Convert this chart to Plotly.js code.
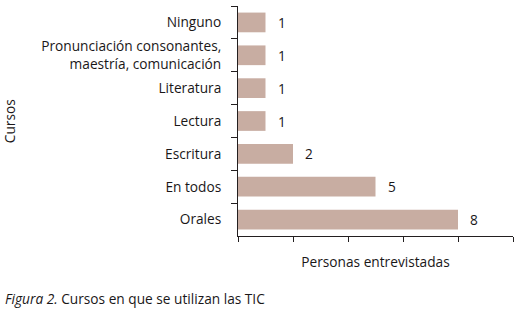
<!DOCTYPE html>
<html>
<head>
<meta charset="utf-8">
<script src="https://cdn.plot.ly/plotly-3.0.1.min.js"></script>
<style>html,body{margin:0;padding:0;background:#fff;}#chart{width:518px;height:309px;}</style>
</head>
<body>
<div id="chart"></div>
<script>
const categories = ["Ninguno", "Pronunciación consonantes,<br>maestría, comunicación", "Literatura", "Lectura", "Escritura", "En todos", "Orales"];
const values = [1, 1, 1, 1, 2, 5, 8];
const xTitle = "Personas entrevistadas";
const yTitle = "Cursos";
const caption = "<i>Figura 2.</i> Cursos en que se utilizan las TIC";

const FONT = "'Open Sans', sans-serif";
const FS = 13.7;
const TXT = "#1a1718";

const annotations = values.map((v, i) => ({
  x: v, y: categories[i], xref: "x", yref: "y",
  text: String(v), showarrow: false, xanchor: "left", yanchor: "middle",
  xshift: 10, font: {family: FONT, size: FS, color: TXT}
}));
annotations.push({
  xref: "paper", yref: "paper", x: -0.856, y: -0.27, xanchor: "left", yanchor: "middle",
  text: caption, showarrow: false, font: {family: FONT, size: FS, color: TXT}
});
annotations.push({
  xref: "paper", yref: "paper", x: -0.832, y: 0.5, xanchor: "center", yanchor: "middle",
  text: yTitle, textangle: -90, showarrow: false, font: {family: FONT, size: FS, color: TXT}
});

const data = [{
  type: "bar", orientation: "h",
  x: values, y: categories,
  marker: {color: "#c8ada2"},
  width: 0.6,
  hoverinfo: "none"
}];

const layout = {
  width: 518, height: 309,
  margin: {l: 238, r: 5, t: 6, b: 73},
  paper_bgcolor: "#fff", plot_bgcolor: "#fff",
  showlegend: false,
  font: {family: FONT, size: FS, color: TXT},
  xaxis: {
    range: [0, 10], dtick: 2, tick0: 0,
    showticklabels: false, ticks: "outside", ticklen: 5, tickcolor: "#231f20",
    showgrid: false, zeroline: false,
    showline: true, linecolor: "#231f20", linewidth: 1,
    title: {text: xTitle, standoff: 16, font: {family: FONT, size: FS, color: TXT}}
  },
  yaxis: {
    type: "category", autorange: "reversed",
    tickson: "boundaries", ticks: "outside", ticklen: 6, tickcolor: "#231f20",
    ticklabelstandoff: 13,
    showgrid: false, zeroline: false,
    showline: true, linecolor: "#231f20", linewidth: 1,
    tickfont: {family: FONT, size: FS, color: TXT}
  },
  annotations: annotations
};

Plotly.newPlot("chart", data, layout, {displayModeBar: false, staticPlot: true});
</script>
</body>
</html>
